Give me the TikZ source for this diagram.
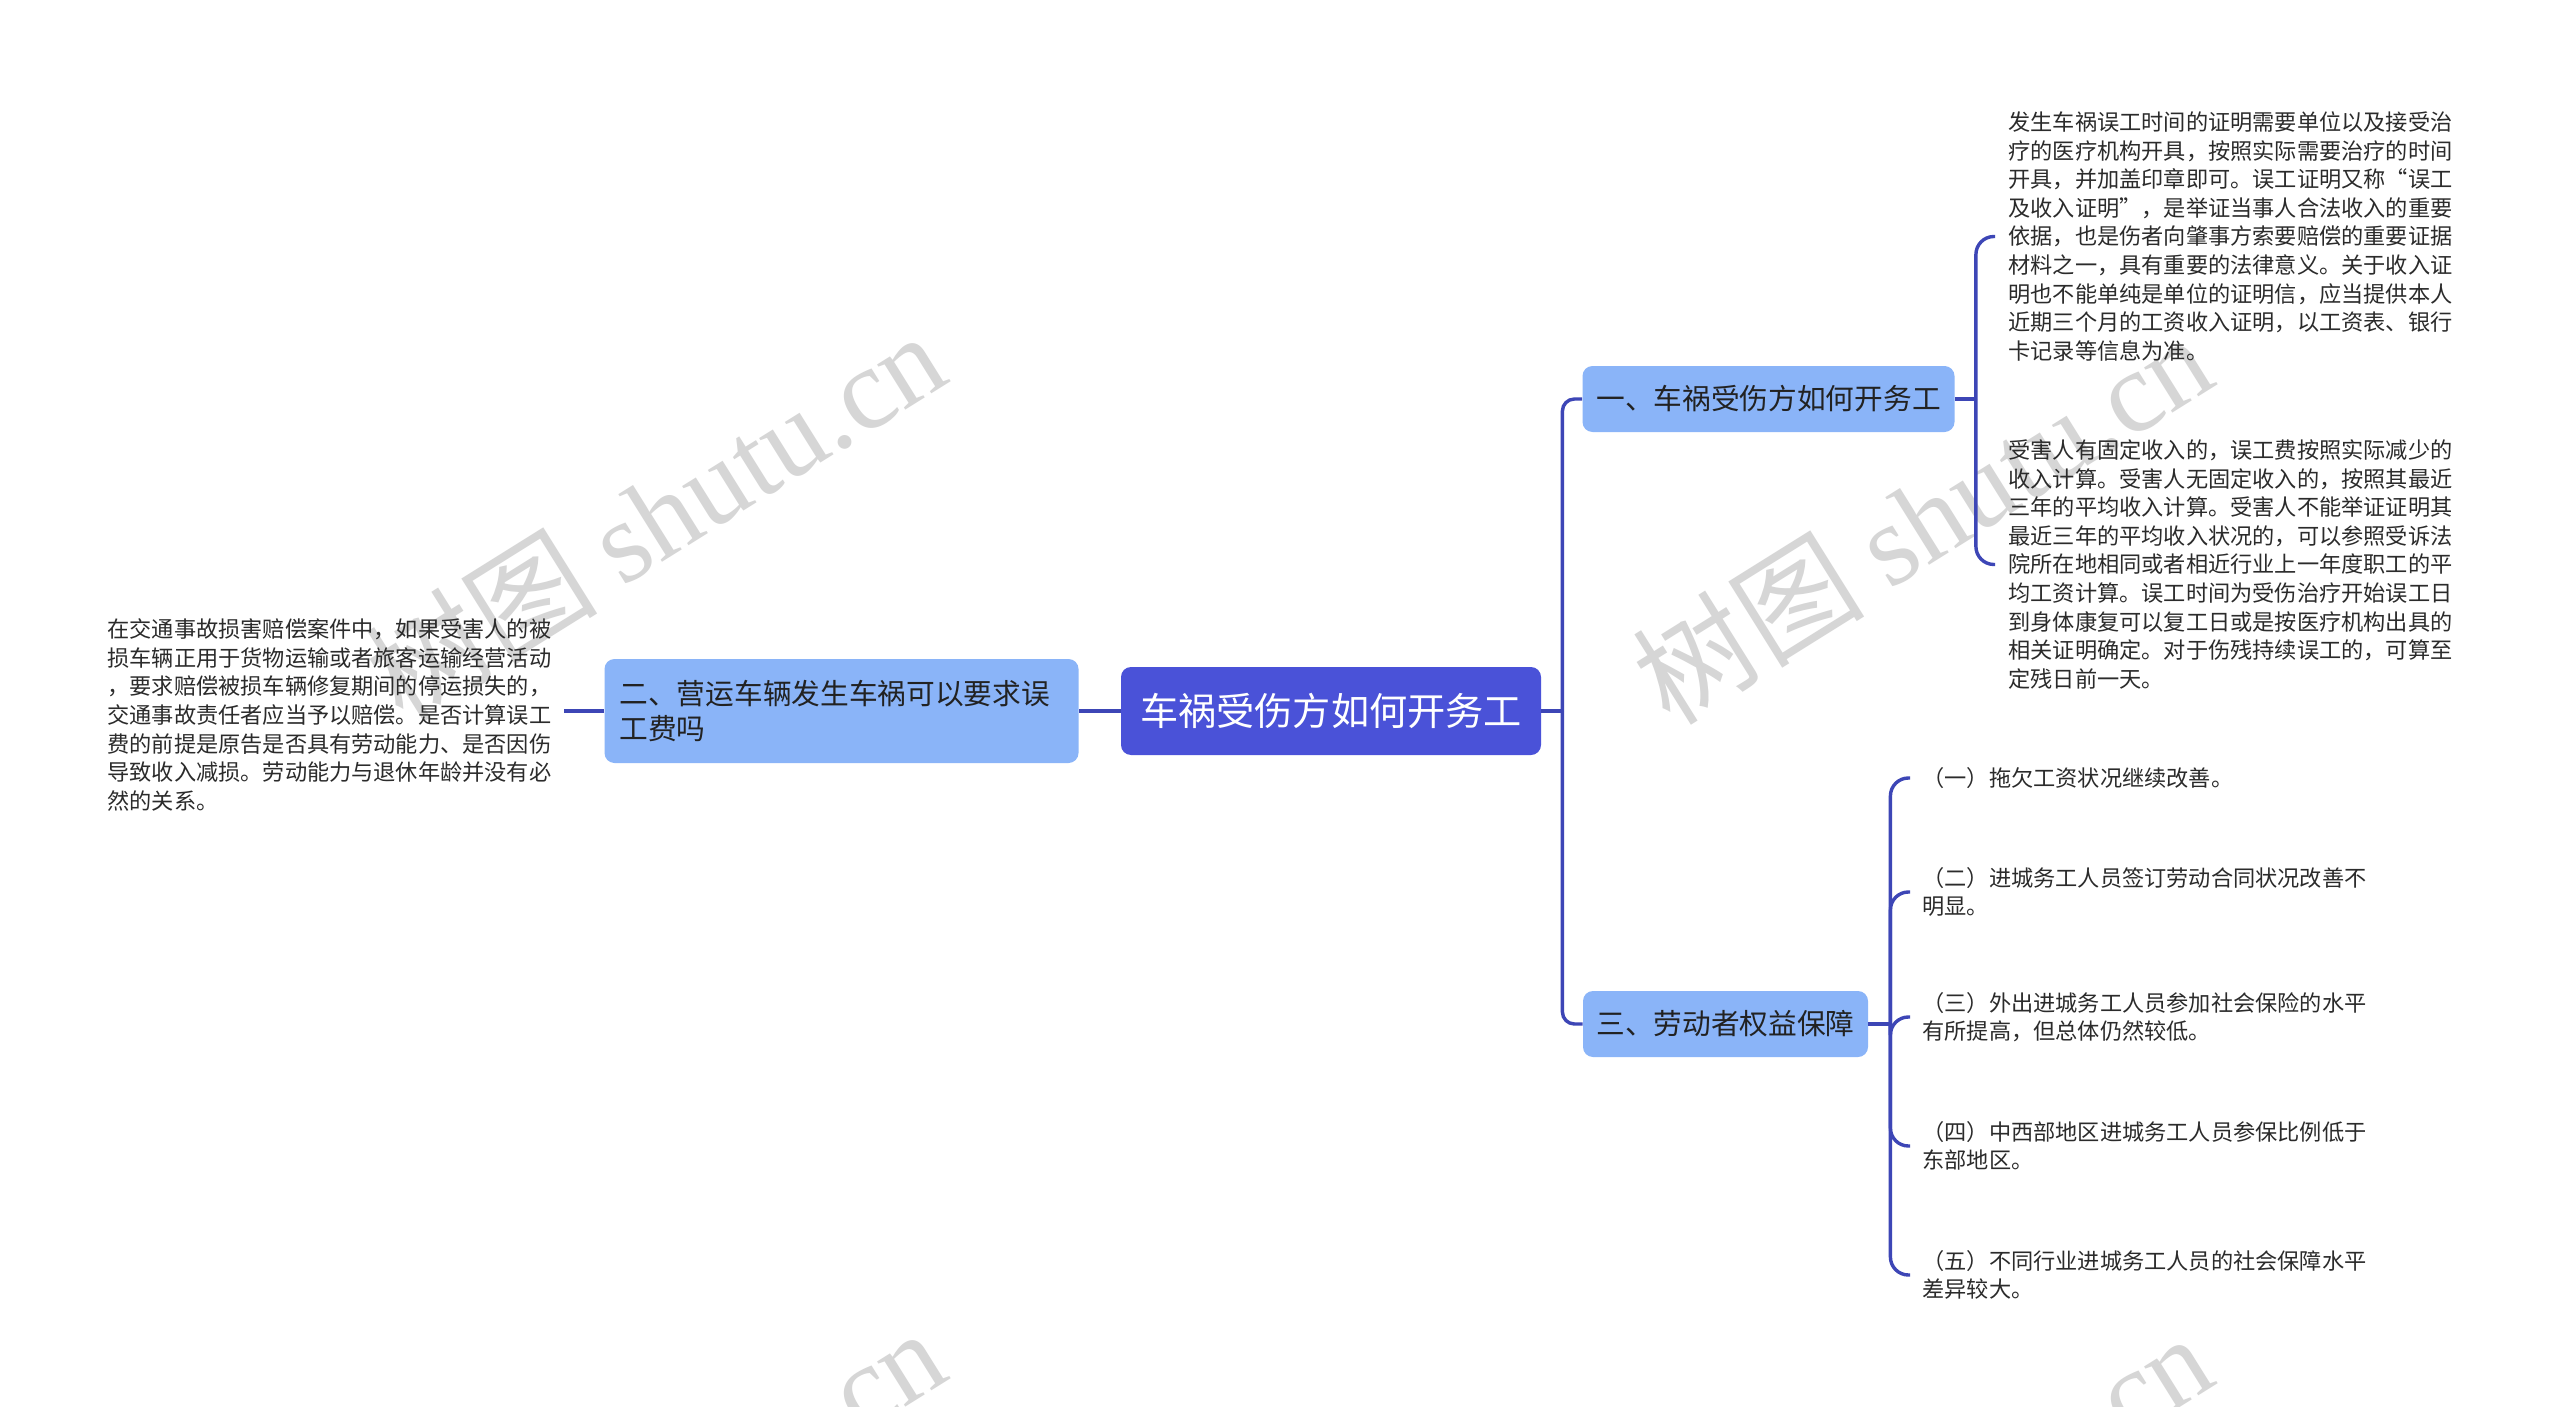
\documentclass[tikz,border=0pt]{standalone}
\usepackage{fontspec}
\setmainfont{Noto Sans CJK SC}
\newfontfamily\wmlatin{Liberation Serif}
\definecolor{rootc}{HTML}{4A52D8}
\definecolor{branchc}{HTML}{8AB4F8}
\definecolor{connc}{HTML}{3D46B6}
\definecolor{textc}{HTML}{222222}
\definecolor{leafc}{HTML}{2B2B2B}
\definecolor{wmc}{HTML}{D6D6D6}
\begin{document}
\begin{tikzpicture}[x=0.5pt,y=-0.5pt,
  conn/.style={draw=connc, line width=1.7pt},
  rootbox/.style={fill=rootc, rounded corners=5pt, text=white, inner sep=0pt,
    minimum width=210pt, minimum height=44pt, font=\fontsize{19.1pt}{23pt}\selectfont},
  branch/.style={fill=branchc, rounded corners=5pt, text=textc, inner sep=0pt,
    minimum height=33pt, font=\fontsize{14.35pt}{17.5pt}\selectfont},
  leaf/.style={anchor=west, align=left, inner sep=0pt, text=leafc,
    font=\fontsize{11.1pt}{14.3pt}\selectfont},
  wm/.style={text=wmc, rotate=32, inner sep=0pt, font=\fontsize{58pt}{64pt}\selectfont}
]
\useasboundingbox (0,0) rectangle (2560,1407);
\fill[white] (0,0) rectangle (2560,1407);
\begin{scope}
\clip (0,0) rectangle (2560,1407);
\node[wm] (w1) at (655,515) {树图 {\wmlatin shutu.cn}};
\node[wm] (w2) at (1922,518) {树图 {\wmlatin shutu.cn}};
\node[wm] (w3) at (655,1512) {树图 {\wmlatin shutu.cn}};
\node[wm] (w4) at (1922,1517) {树图 {\wmlatin shutu.cn}};
\end{scope}

% main nodes
\node[rootbox] (root) at (1331,711) {车祸受伤方如何开务工};
\node[branch, minimum width=186pt] (b1) at (1768.5,399) {一、车祸受伤方如何开务工};
\node[branch, minimum width=142.5pt] (b3) at (1725.5,1024) {三、劳动者权益保障};
\node[branch, align=left, text width=222pt, inner xsep=7.5pt, minimum height=52pt] (b2) at (841.5,711)
  {二、营运车辆发生车祸可以要求误\\工费吗};

% leaves of b1
\node[leaf] (l1a) at (2008,236.5) {发生车祸误工时间的证明需要单位以及接受治\\疗的医疗机构开具，按照实际需要治疗的时间\\开具，并加盖印章即可。误工证明又称“误工\\及收入证明”，是举证当事人合法收入的重要\\依据，也是伤者向肇事方索要赔偿的重要证据\\材料之一，具有重要的法律意义。关于收入证\\明也不能单纯是单位的证明信，应当提供本人\\近期三个月的工资收入证明，以工资表、银行\\卡记录等信息为准。};
\node[leaf] (l1b) at (2008,564.5) {受害人有固定收入的，误工费按照实际减少的\\收入计算。受害人无固定收入的，按照其最近\\三年的平均收入计算。受害人不能举证证明其\\最近三年的平均收入状况的，可以参照受诉法\\院所在地相同或者相近行业上一年度职工的平\\均工资计算。误工时间为受伤治疗开始误工日\\到身体康复可以复工日或是按医疗机构出具的\\相关证明确定。对于伤残持续误工的，可算至\\定残日前一天。};

% leaf of b2
\node[leaf] (lL) at (107,715) {在交通事故损害赔偿案件中，如果受害人的被\\损车辆正用于货物运输或者旅客运输经营活动\\，要求赔偿被损车辆修复期间的停运损失的，\\交通事故责任者应当予以赔偿。是否计算误工\\费的前提是原告是否具有劳动能力、是否因伤\\导致收入减损。劳动能力与退休年龄并没有必\\然的关系。};

% leaves of b3
\node[leaf] (l3a) at (1922,778) {（一）拖欠工资状况继续改善。};
\node[leaf] (l3b) at (1922,892) {（二）进城务工人员签订劳动合同状况改善不\\明显。};
\node[leaf] (l3c) at (1922,1017) {（三）外出进城务工人员参加社会保险的水平\\有所提高，但总体仍然较低。};
\node[leaf] (l3d) at (1922,1146) {（四）中西部地区进城务工人员参保比例低于\\东部地区。};
\node[leaf] (l3e) at (1922,1275) {（五）不同行业进城务工人员的社会保障水平\\差异较大。};

% connectors: root to b2 and b2 to leaf
\draw[conn] (root.west) -- (b2.east);
\coordinate (lLe) at ([xshift=6pt]lL.east);
\draw[conn] (b2.west) -- (lLe |- b2.west);

% root to b1 / b3
\coordinate (jr) at ([xshift=10.5pt]root.east);
\draw[conn] (root.east) -- (jr);
\draw[conn, rounded corners=6pt] (jr) |- (b1.west);
\draw[conn, rounded corners=6pt] (jr) |- (b3.west);

% b1 to its leaves
\coordinate (j1) at ([xshift=10.5pt]b1.east);
\draw[conn] (b1.east) -- (j1);
\coordinate (e1a) at ([xshift=-6.5pt]l1a.west);
\coordinate (e1b) at ([xshift=-6.5pt]l1b.west);
\draw[conn, rounded corners=9pt] (j1) |- (e1a);
\draw[conn, rounded corners=9pt] (j1) |- (e1b);

% b3 to its leaves
\coordinate (j3) at ([xshift=11pt]b3.east);
\draw[conn] (b3.east) -- (j3);
\foreach \n in {l3a,l3b,l3c,l3d,l3e}{
  \coordinate (e\n) at ([xshift=-6pt]\n.west);
  \draw[conn, rounded corners=9pt] (j3) |- (e\n);
}
\end{tikzpicture}
\end{document}
